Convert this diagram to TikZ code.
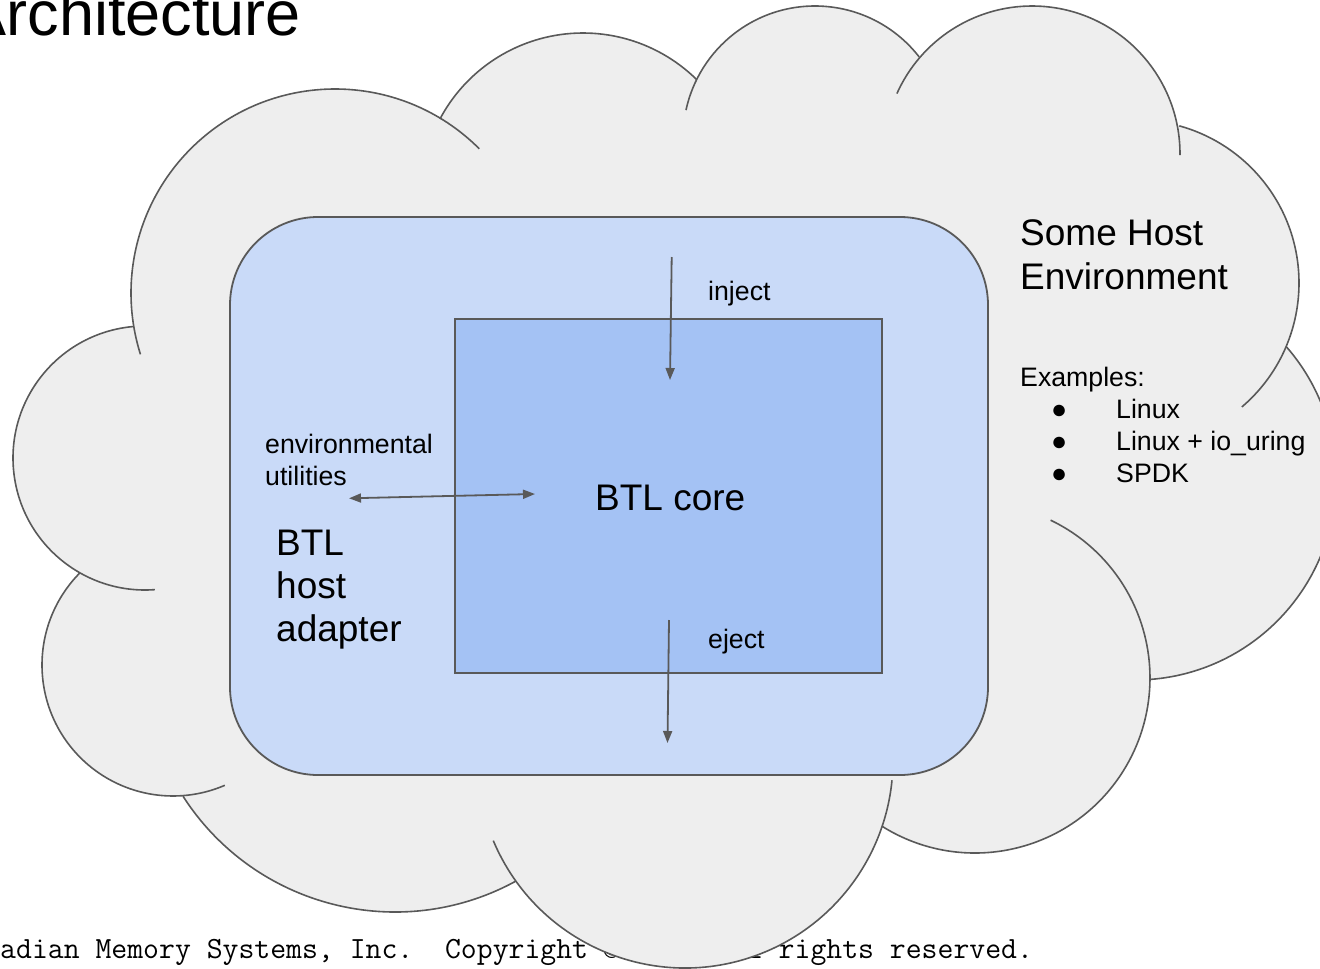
\documentclass[tikz,border=0pt]{standalone}
\usepackage{fontspec}
\setmainfont{Liberation Sans}
\usetikzlibrary{arrows.meta}
\definecolor{cloudfill}{HTML}{EEEEEE}
\definecolor{edgegray}{HTML}{595959}
\definecolor{adapterfill}{HTML}{C9DAF8}
\definecolor{corefill}{HTML}{A4C2F4}

\begin{document}
\begin{tikzpicture}[x=1pt,y=1pt,
  cloudline/.style={draw=edgegray, line width=1.6pt},
  boxline/.style={draw=edgegray, line width=1.8pt, inner sep=0pt},
  smalltext/.style={anchor=base west, inner sep=0pt, font=\fontsize{26.7}{32}\selectfont},
  bigtext/.style={anchor=base west, inner sep=0pt, font=\fontsize{37}{44}\selectfont},
  flow/.style={draw=edgegray, line width=1.8pt, -{Triangle[length=12pt,width=9pt]}},
  flowboth/.style={draw=edgegray, line width=1.8pt, {Triangle[length=12pt,width=9pt]}-{Triangle[length=12pt,width=9pt]}}]
\useasboundingbox (0,0) rectangle (1320,-969);

% title and footer (the cloud is drawn over the footer)
\node[anchor=base east, inner sep=0pt, font=\fontsize{63}{66}\selectfont] (title) at (301,-35) {Architecture};
\node[anchor=base west, inner sep=0pt, font=\ttfamily\fontsize{30.85}{36}\selectfont] (footer) at (-15.85,-958) {Radian Memory Systems, Inc.\ \ Copyright\ ©\ 2020\ All\ rights\ reserved.};

% cloud: union of lobes plus the polygon through their centres
\foreach \cx/\cy/\r in {335/293/204, 583/195/162, 815/138/132, 1032/154/148, 1136/283/163,
                        1135/479/201, 975/678/175, 685/760/208, 395/660/252, 173/665/131, 145/458/132}
  \fill[cloudfill] (\cx,-\cy) circle[radius=\r];
\fill[cloudfill] (335,-293) -- (583,-195) -- (815,-138) -- (1032,-154) -- (1136,-283) -- (1135,-479)
  -- (975,-678) -- (685,-760) -- (395,-660) -- (173,-665) -- (145,-458) -- cycle;
% outer arcs of the lobes, each with its inner crease
\foreach \cx/\cy/\r/\a/\b in {335/293/204/45/197.5, 583/195/162/45.5/152, 815/138/132/37.9/167.8,
                              1032/154/148/-0.4/155.9, 1136/283/163/-49.5/74.6, 1135/479/201/-85.7/41.1,
                              975/678/175/-122.1/64.4, 685/760/208/202.8/354.4, 395/660/252/212.7/298.7,
                              173/665/131/135.3/293.3, 145/458/132/95.2/274.3}
  \draw[cloudline] (\cx,-\cy) ++(\a:\r) arc[start angle=\a, end angle=\b, radius=\r];

% host adapter and core
\node[boxline, fill=adapterfill, rounded corners=88pt, minimum width=758pt, minimum height=558pt] (adapter) at (609,-496) {};
\node[boxline, fill=corefill, minimum width=427pt, minimum height=354pt] (core) at (668.5,-496) {};

% labels
\node[bigtext] (coreA) at (595,-510) {BTL core};
\node[bigtext] (adA) at (276,-555) {BTL};
\node[bigtext] (adB) at (276,-598) {host};
\node[bigtext] (adC) at (276,-641) {adapter};
\node[smalltext] (envA) at (265,-453) {environmental};
\node[smalltext] (envB) at (265,-485) {utilities};
\node[smalltext] (injectlbl) at (708,-300) {inject};
\node[smalltext] (ejectlbl) at (708,-648) {eject};

\node[bigtext] (hostA) at (1020,-245) {Some Host};
\node[bigtext] (hostB) at (1020,-289) {Environment};
\node[smalltext] (exA) at (1020,-386) {Examples:};
\node[smalltext] (bulA) at (1051,-418) {●};
\node[smalltext] (bulB) at (1051,-450) {●};
\node[smalltext] (bulC) at (1051,-482) {●};
\node[smalltext] (exB) at (1116,-418) {Linux};
\node[smalltext] (exC) at (1116,-450) {Linux + io\_uring};
\node[smalltext] (exD) at (1116,-482) {SPDK};

% arrows
\coordinate (injectTop) at (671.7,-257);
\coordinate (injectEnd) at (670,-380);
\coordinate (ejectTop) at (669,-620);
\coordinate (ejectEnd) at (667.5,-743);
\coordinate (utilEnd) at (349,-498.3);
\coordinate (coreEnd) at (535,-494);
\draw[flow] (injectTop) -- (injectEnd);
\draw[flow] (ejectTop) -- (ejectEnd);
\draw[flowboth] (utilEnd) -- (coreEnd);
\end{tikzpicture}
\end{document}
